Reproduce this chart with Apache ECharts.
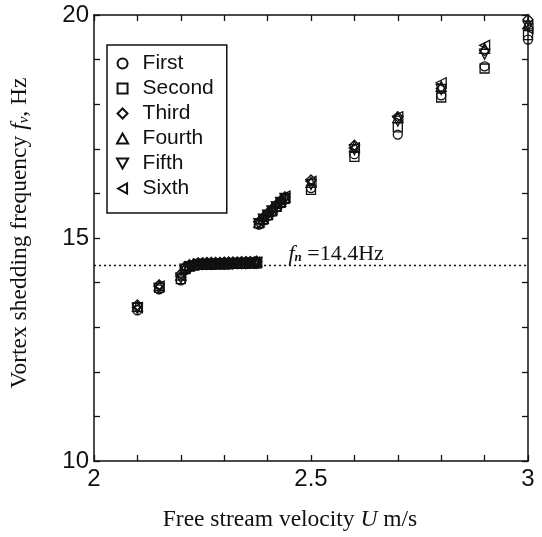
<!DOCTYPE html>
<html>
<head>
<meta charset="utf-8">
<script src="https://cdn.jsdelivr.net/npm/echarts@6/dist/echarts.min.js"></script>
<style>
  html, body { margin: 0; padding: 0; background: #fff; }
  #chart { width: 542px; height: 537px; }
</style>
</head>
<body>
<div id="chart"></div>
<script>
// free stream velocity U (m/s), shared by all runs
var velocity = [2.10, 2.15, 2.20, 2.21, 2.22, 2.23, 2.24, 2.25, 2.26, 2.27, 2.28, 2.29, 2.30, 2.31, 2.32, 2.33, 2.34, 2.35, 2.36, 2.37, 2.375,
  2.38, 2.39, 2.40, 2.41, 2.42, 2.43, 2.44, 2.50, 2.60, 2.70, 2.80, 2.90, 3.00];

// vortex shedding frequency fv (Hz) for each run
var first  = [13.38, 13.85, 14.05, 14.28, 14.35, 14.38, 14.40, 14.40, 14.40, 14.41, 14.41, 14.41, 14.41, 14.42, 14.42, 14.42, 14.42, 14.43, 14.43, 14.43, 14.43,
  15.30, 15.39, 15.49, 15.58, 15.68, 15.77, 15.86, 16.12, 16.88, 17.32, 18.20, 18.85, 19.45];
var second = [13.45, 13.88, 14.08, 14.30, 14.36, 14.38, 14.40, 14.40, 14.40, 14.40, 14.41, 14.41, 14.41, 14.41, 14.42, 14.42, 14.42, 14.42, 14.43, 14.43, 14.43,
  15.33, 15.41, 15.51, 15.60, 15.70, 15.79, 15.88, 16.08, 16.82, 17.48, 18.15, 18.80, 19.55];
var third  = [13.50, 13.95, 14.20, 14.36, 14.40, 14.42, 14.44, 14.44, 14.45, 14.45, 14.45, 14.45, 14.46, 14.46, 14.46, 14.46, 14.47, 14.47, 14.47, 14.47, 14.48,
  15.36, 15.45, 15.55, 15.64, 15.74, 15.83, 15.92, 16.30, 17.08, 17.72, 18.35, 19.20, 19.90];
var fourth = [13.47, 13.93, 14.17, 14.34, 14.39, 14.41, 14.43, 14.43, 14.43, 14.44, 14.44, 14.44, 14.44, 14.45, 14.45, 14.45, 14.45, 14.46, 14.46, 14.46, 14.47,
  15.35, 15.44, 15.53, 15.63, 15.72, 15.82, 15.91, 16.25, 17.05, 17.70, 18.40, 19.25, 19.80];
var fifth  = [13.42, 13.87, 14.10, 14.30, 14.36, 14.38, 14.41, 14.41, 14.41, 14.41, 14.42, 14.42, 14.42, 14.42, 14.43, 14.43, 14.43, 14.43, 14.44, 14.44, 14.44,
  15.32, 15.42, 15.51, 15.61, 15.70, 15.80, 15.89, 16.20, 16.98, 17.62, 18.33, 19.12, 19.75];
var sixth  = [13.44, 13.92, 14.15, 14.33, 14.38, 14.40, 14.43, 14.43, 14.43, 14.43, 14.44, 14.44, 14.44, 14.44, 14.44, 14.45, 14.45, 14.45, 14.45, 14.46, 14.46,
  15.37, 15.46, 15.56, 15.65, 15.75, 15.84, 15.94, 16.27, 17.02, 17.72, 18.48, 19.32, 19.70];

var runNames = ['First', 'Second', 'Third', 'Fourth', 'Fifth', 'Sixth'];
var runData = [first, second, third, fourth, fifth, sixth];
var naturalFreq = 14.4;

var xTicks = { min: 2, max: 3, step: 0.1 };
var yTicks = { min: 10, max: 20, step: 1 };

var symbols = [
  'circle',
  'path://M0,0L10,0L10,10L0,10Z',
  'path://M5,0L10,5L5,10L0,5Z',
  'path://M5,0L10,9L0,9Z',
  'path://M0,0L10,0L5,9Z',
  'path://M0,5L9,0L9,10Z'
];
var sizes = [9, 9, 10, 10, 10, 10];

var chart = echarts.init(document.getElementById('chart'));

var sansFont = 'Liberation Sans, Arial, sans-serif';
var serifFont = 'Liberation Serif, Times New Roman, serif';

function makeXAxis(pos, showLabel) {
  return {
    type: 'value', position: pos,
    min: xTicks.min, max: xTicks.max, interval: xTicks.step,
    name: pos === 'bottom' ? 'Free stream velocity {i|U} m/s' : '',
    nameLocation: 'middle', nameGap: 47,
    nameTextStyle: {
      fontFamily: serifFont, fontSize: 23.5, color: '#111', padding: [0, 42, 0, 0],
      rich: { i: { fontFamily: serifFont, fontSize: 23.5, fontStyle: 'italic', color: '#111' } }
    },
    axisLine: { show: true, onZero: false, lineStyle: { color: '#111', width: 1.5 } },
    axisTick: { show: true, inside: true, length: 6, lineStyle: { color: '#111', width: 1.3 } },
    axisLabel: {
      show: showLabel, margin: 6, fontFamily: sansFont, fontSize: 24, color: '#111',
      showMinLabel: true, showMaxLabel: true,
      formatter: function (v) { return Math.round(v * 10) % 5 === 0 ? String(+v.toFixed(1)) : ''; }
    },
    splitLine: { show: false }
  };
}

function makeYAxis(pos, showLabel) {
  return {
    type: 'value', position: pos,
    min: yTicks.min, max: yTicks.max, interval: yTicks.step,
    name: pos === 'left' ? 'Vortex shedding frequency {i|f}{s|v}, Hz' : '',
    nameLocation: 'middle', nameGap: 62, nameRotate: 90,
    nameTextStyle: {
      fontFamily: serifFont, fontSize: 23.5, color: '#111', padding: [0, 0, 0, 10],
      rich: {
        i: { fontFamily: serifFont, fontSize: 23.5, fontStyle: 'italic', color: '#111' },
        s: { fontFamily: serifFont, fontSize: 15, fontStyle: 'italic', color: '#111', padding: [9, 0, 0, 0] }
      }
    },
    axisLine: { show: true, onZero: false, lineStyle: { color: '#111', width: 1.5 } },
    axisTick: { show: true, inside: true, length: 6, lineStyle: { color: '#111', width: 1.3 } },
    axisLabel: {
      show: showLabel, margin: 5, fontFamily: sansFont, fontSize: 24, color: '#111',
      showMinLabel: true, showMaxLabel: true,
      formatter: function (v) { return Math.round(v) % 5 === 0 ? String(v) : ''; }
    },
    splitLine: { show: false }
  };
}

var series = runNames.map(function (name, k) {
  return {
    name: name,
    type: 'scatter',
    symbol: symbols[k],
    symbolSize: sizes[k],
    itemStyle: { color: 'rgba(255,255,255,0)', borderColor: '#111', borderWidth: 1.3, opacity: 1 },
    data: velocity.map(function (u, i) { return [u, runData[k][i]]; }),
    z: 3
  };
});

// dotted line of the natural frequency with its label
series.push({
  name: 'fn',
  type: 'line',
  data: [],
  markLine: {
    silent: true, symbol: 'none',
    lineStyle: { color: '#111', type: [2, 3], width: 1.3 },
    label: { show: false },
    data: [[{ coord: [xTicks.min, naturalFreq] }, { coord: [xTicks.max, naturalFreq] }]]
  },
  markPoint: {
    silent: true, symbol: 'circle', symbolSize: 0,
    data: [{ coord: [2.558, naturalFreq] }],
    label: {
      show: true, position: 'top', distance: 0,
      formatter: '{f|f}{n|n}{t| =14.4Hz}',
      rich: {
        f: { fontFamily: serifFont, fontSize: 22, fontStyle: 'italic', color: '#111' },
        n: { fontFamily: serifFont, fontSize: 13, fontStyle: 'italic', fontWeight: 'bold', color: '#111', padding: [8, 0, 0, 0] },
        t: { fontFamily: serifFont, fontSize: 22, color: '#111' }
      }
    }
  }
});

var option = {
  animation: false,
  backgroundColor: '#fff',
  grid: { left: 83, right: 14, top: 15, bottom: 74, containLabel: false },
  legend: {
    data: runNames,
    orient: 'vertical',
    left: 107, top: 45,
    backgroundColor: '#fff',
    borderColor: '#111', borderWidth: 1.5, borderRadius: 0,
    padding: [8, 13, 14, 9],
    itemWidth: 30, itemHeight: 10, itemGap: 4,
    textStyle: { fontFamily: sansFont, fontSize: 21, lineHeight: 20, color: '#111' }
  },
  xAxis: [makeXAxis('bottom', true), makeXAxis('top', false)],
  yAxis: [makeYAxis('left', true), makeYAxis('right', false)],
  series: series
};

chart.setOption(option);
</script>
</body>
</html>
